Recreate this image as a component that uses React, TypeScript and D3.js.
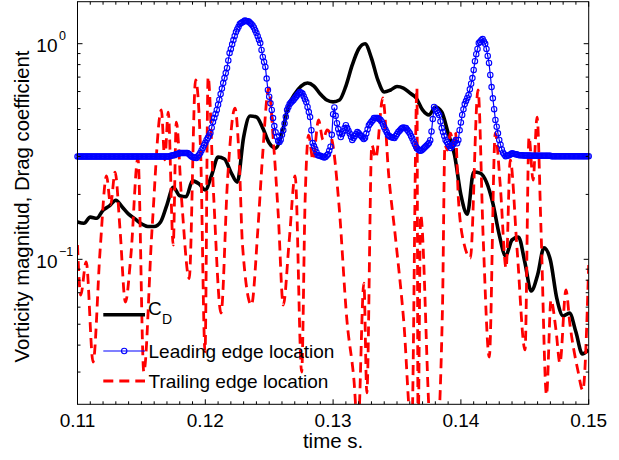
import { useEffect, useRef } from "react";
import * as d3 from "d3";

// drag coefficient, sampled every 0.0005 s from 0.11
const cdValues = [
  0.149, 0.147, 0.157, 0.155, 0.169, 0.177, 0.188, 0.175, 0.162, 0.154,
  0.146, 0.142, 0.142, 0.149, 0.179, 0.216, 0.197, 0.195, 0.231, 0.224,
  0.21, 0.246, 0.298, 0.292, 0.254, 0.228, 0.369, 0.462, 0.457, 0.406,
  0.346, 0.328, 0.385, 0.514, 0.584, 0.636, 0.657, 0.636, 0.584, 0.548,
  0.537, 0.548, 0.636, 0.797, 0.945, 1.0, 0.858, 0.679, 0.597, 0.61,
  0.633, 0.623, 0.591, 0.56, 0.493, 0.467, 0.509, 0.482, 0.385, 0.305,
  0.199, 0.162, 0.254, 0.251, 0.228, 0.182, 0.13, 0.1036, 0.123, 0.127,
  0.0972, 0.0713, 0.0846, 0.113, 0.0993, 0.0661, 0.0546, 0.0563, 0.046, 0.0364,
  0.038,
];

// leading edge location, sampled every 0.0001 s from 0.11
const leadingValues = [
  0.3, 0.3, 0.3, 0.3, 0.3, 0.3, 0.3, 0.3, 0.3, 0.3,
  0.3, 0.3, 0.3, 0.3, 0.3, 0.3, 0.3, 0.3, 0.3, 0.3,
  0.3, 0.3, 0.3, 0.3, 0.3, 0.3, 0.3, 0.3, 0.3, 0.3,
  0.3, 0.3, 0.3, 0.3, 0.3, 0.3, 0.3, 0.3, 0.3, 0.3,
  0.3, 0.3, 0.3, 0.3, 0.3, 0.3, 0.3, 0.3, 0.3, 0.3,
  0.3, 0.3, 0.3, 0.3, 0.3, 0.3, 0.3, 0.3, 0.3, 0.3,
  0.3, 0.3, 0.3, 0.3, 0.3, 0.3, 0.3, 0.3, 0.3, 0.3,
  0.3, 0.3, 0.3,
  0.302, 0.303, 0.304, 0.305, 0.307, 0.308, 0.309, 0.311,
  0.311, 0.311, 0.311, 0.311, 0.311, 0.311,
  0.309, 0.305, 0.301, 0.298,
  0.297, 0.296, 0.295,
  0.3, 0.305, 0.311,
  0.32, 0.328,
  0.338, 0.347, 0.358,
  0.366, 0.375, 0.385,
  0.408, 0.433,
  0.452, 0.472, 0.493,
  0.521, 0.55, 0.584, 0.619, 0.657,
  0.693, 0.731, 0.772,
  0.836, 0.906,
  0.946, 0.993, 1.04,
  1.086, 1.133, 1.166, 1.197, 1.234,
  1.246, 1.257, 1.268, 1.28,
  1.276, 1.271, 1.267, 1.25, 1.233, 1.216, 1.19, 1.155, 1.121, 1.084, 1.044, 1.0075,
  0.935, 0.868, 0.823, 0.78, 0.689, 0.61,
  0.568, 0.529, 0.493, 0.452, 0.415, 0.388, 0.37, 0.354, 0.35,
  0.359, 0.378, 0.397, 0.426, 0.458, 0.493,
  0.509, 0.525, 0.533, 0.541, 0.548, 0.558, 0.568, 0.578, 0.588, 0.597,
  0.592, 0.587, 0.57, 0.553, 0.537, 0.509, 0.482, 0.457, 0.397, 0.346,
  0.335, 0.325, 0.314, 0.304, 0.303, 0.302, 0.3, 0.299, 0.297, 0.298,
  0.303, 0.307, 0.319, 0.333, 0.378, 0.471, 0.506, 0.463, 0.428, 0.402, 0.385, 0.369,
  0.381, 0.393, 0.406, 0.419, 0.406, 0.395, 0.383, 0.37, 0.358,
  0.365, 0.373, 0.381, 0.389, 0.384, 0.378, 0.373, 0.367, 0.361,
  0.366, 0.383, 0.401, 0.419, 0.426, 0.434, 0.442, 0.452, 0.452, 0.452, 0.452,
  0.448, 0.444, 0.436, 0.423, 0.41, 0.399, 0.388, 0.377, 0.373, 0.369, 0.368, 0.366, 0.365,
  0.373, 0.381, 0.389, 0.395, 0.401, 0.407, 0.409, 0.407, 0.406,
  0.399, 0.392, 0.384, 0.373, 0.363, 0.352, 0.342, 0.332, 0.326, 0.321,
  0.319, 0.32, 0.323, 0.327, 0.332, 0.336, 0.341, 0.346,
  0.357, 0.392, 0.447, 0.509, 0.498, 0.488, 0.477, 0.467,
  0.436, 0.406, 0.389, 0.373, 0.358, 0.35, 0.342, 0.335, 0.328, 0.335, 0.342, 0.35, 0.358,
  0.345, 0.358, 0.397, 0.431, 0.467, 0.496, 0.525, 0.542, 0.56, 0.578,
  0.614, 0.652, 0.693, 0.756, 0.83, 0.894, 0.946, 1.0075, 1.021, 1.037, 1.051,
  1.025, 0.999, 0.946, 0.878, 0.814, 0.716, 0.629, 0.558, 0.497, 0.443, 0.412, 0.384, 0.358,
  0.34, 0.323, 0.312, 0.306, 0.301, 0.302, 0.303, 0.305, 0.307, 0.31, 0.309, 0.308, 0.307, 0.306, 0.305, 0.304,
  0.304, 0.304, 0.303, 0.303, 0.303, 0.303, 0.303, 0.303,
  0.302, 0.302, 0.302, 0.302, 0.302, 0.302, 0.302, 0.302,
  0.302, 0.302, 0.302, 0.302, 0.302, 0.302, 0.302, 0.302,
  0.301, 0.301, 0.301, 0.301, 0.301, 0.301, 0.301, 0.301, 0.301, 0.301,
  0.301, 0.301, 0.301, 0.301, 0.301, 0.301, 0.301, 0.301, 0.301, 0.301,
  0.301, 0.301, 0.301, 0.301, 0.301, 0.301, 0.301, 0.301, 0.301, 0.301,
];

// trailing edge location, turning points
const trailingTime = [
  0.11, 0.11025, 0.11068, 0.11122, 0.11177, 0.11227, 0.11259, 0.11294, 0.11333, 0.11375,
  0.11418, 0.11473, 0.11519, 0.11582, 0.11656, 0.11683, 0.1171, 0.11749, 0.11773, 0.11815,
  0.11874, 0.11924, 0.11963, 0.11998, 0.12022, 0.12065, 0.12123, 0.12174, 0.12232, 0.12267,
  0.12291, 0.12361, 0.12411, 0.12446, 0.12497, 0.12532, 0.12571, 0.1261, 0.12657, 0.12703,
  0.12754, 0.12781, 0.12808, 0.12843, 0.12886, 0.12921, 0.12953, 0.12991, 0.13046, 0.13108,
  0.13163, 0.13194, 0.13241, 0.13264, 0.13303, 0.13334, 0.13389, 0.13435, 0.1349, 0.13552,
  0.13615, 0.13656, 0.13665, 0.13685, 0.13763, 0.13809, 0.13856, 0.13875, 0.13895, 0.13918,
  0.13942, 0.13957, 0.13981, 0.14027, 0.14074, 0.14134, 0.14175, 0.14222, 0.14269, 0.14308,
  0.14354, 0.14386, 0.1444, 0.14502, 0.14533, 0.14565, 0.14596, 0.14627, 0.1467, 0.14705,
  0.14744, 0.14775, 0.14822, 0.14853, 0.14915, 0.14954, 0.15,
];
const trailingValues = [
  0.1165, 0.0683, 0.0972, 0.0334, 0.1104, 0.2435, 0.179, 0.254, 0.1368, 0.0634,
  0.1047, 0.295, 0.03, 0.1339, 0.493, 0.289, 0.482, 0.1165, 0.433, 0.188,
  0.0814, 0.679, 0.321, 0.0372, 0.701, 0.199, 0.0563, 0.233, 0.503, 0.274,
  0.1165, 0.0614, 0.1368, 0.289, 0.623, 0.358, 0.1605, 0.0614, 0.1229, 0.2435,
  0.03, 0.188, 0.377, 0.289, 0.443, 0.358, 0.398, 0.358, 0.179, 0.0523,
  0.0276, 0.016, 0.0776, 0.024, 0.339, 0.295, 0.56, 0.246, 0.1229, 0.0523,
  0.016, 0.623, 0.016, 0.1605, 0.016, 0.014, 0.06, 0.339, 0.321, 0.385,
  0.339, 0.389, 0.188, 0.1165, 0.1014, 0.61, 0.1229, 0.0352, 0.385, 0.22,
  0.0911, 0.289, 0.1104, 0.038, 0.369, 0.233, 0.457, 0.1368, 0.0235, 0.0648,
  0.047, 0.033, 0.0721, 0.05, 0.0306, 0.0247, 0.0941,
];

const xTicks = [0.11, 0.12, 0.13, 0.14, 0.15];
const yTicks = [0.1, 1];
const yTickExp = ["\u22121", "0"];
const yMinorTicks = [0.03, 0.04, 0.05, 0.06, 0.07, 0.08, 0.09, 0.2, 0.3, 0.4, 0.5, 0.6, 0.7, 0.8, 0.9];
const legendLabels = ["Leading edge location", "Trailing edge location"];

const cdTime = cdValues.map((_, i) => 0.11 + i * 0.0005);
const leadingTime = leadingValues.map((_, i) => 0.11 + i * 0.0001);

const font = "'Liberation Sans', Arial, Helvetica, sans-serif";

const App = () => {
  const svgRef = useRef<SVGSVGElement>(null);
  const width = 619;
  const height = 460;
  const box = { left: 77.5, right: 588.7, top: 1.7, bottom: 404.3 };

  useEffect(() => {
    const svg = d3.select(svgRef.current);
    svg.selectAll("*").remove();

    const x = d3.scaleLinear().domain([0.11, 0.15]).range([box.left, box.right]);
    const y = d3.scaleLog().domain([0.02126, 1.566]).range([box.bottom, box.top]);

    svg.append("rect").attr("width", width).attr("height", height).attr("fill", "#fff");

    svg
      .append("defs")
      .append("clipPath")
      .attr("id", "plotclip")
      .append("rect")
      .attr("x", box.left)
      .attr("y", box.top)
      .attr("width", box.right - box.left)
      .attr("height", box.bottom - box.top);

    const smooth = (ts: number[]) =>
      d3
        .line<number>()
        .x((d, i) => x(ts[i]))
        .y((d) => y(d))
        .curve(d3.curveMonotoneX);

    const plot = svg.append("g").attr("clip-path", "url(#plotclip)");

    plot
      .append("path")
      .attr("d", smooth(cdTime)(cdValues))
      .attr("fill", "none")
      .attr("stroke", "#000")
      .attr("stroke-width", 3.6)
      .attr("stroke-linejoin", "round");

    plot
      .append("path")
      .attr("d", d3.line<number>().x((d, i) => x(leadingTime[i])).y((d) => y(d))(leadingValues))
      .attr("fill", "none")
      .attr("stroke", "#0000ff")
      .attr("stroke-width", 1.2);

    svg
      .append("g")
      .selectAll("circle")
      .data(leadingValues)
      .enter()
      .append("circle")
      .attr("cx", (d, i) => x(leadingTime[i]))
      .attr("cy", (d) => y(d))
      .attr("r", 2.7)
      .attr("fill", "none")
      .attr("stroke", "#0000ff")
      .attr("stroke-width", 1.1);

    plot
      .append("path")
      .attr("d", smooth(trailingTime)(trailingValues))
      .attr("fill", "none")
      .attr("stroke", "#ff0000")
      .attr("stroke-width", 2.8)
      .attr("stroke-dasharray", "10,6");

    // axes box and ticks
    const axes = svg.append("g").attr("stroke", "#000").attr("stroke-width", 1);
    axes
      .append("rect")
      .attr("x", box.left)
      .attr("y", box.top)
      .attr("width", box.right - box.left)
      .attr("height", box.bottom - box.top)
      .attr("fill", "none");

    const xMinor = d3.range(0, 41).map((i) => 0.11 + i * 0.001);
    xMinor.forEach((t, i) => {
      const len = i % 10 === 0 ? 5 : 3;
      axes.append("line").attr("x1", x(t)).attr("x2", x(t)).attr("y1", box.bottom).attr("y2", box.bottom - len);
      axes.append("line").attr("x1", x(t)).attr("x2", x(t)).attr("y1", box.top).attr("y2", box.top + len);
    });
    yMinorTicks.forEach((v) => {
      axes.append("line").attr("x1", box.left).attr("x2", box.left + 3).attr("y1", y(v)).attr("y2", y(v));
      axes.append("line").attr("x1", box.right).attr("x2", box.right - 3).attr("y1", y(v)).attr("y2", y(v));
    });
    yTicks.forEach((v) => {
      axes.append("line").attr("x1", box.left).attr("x2", box.left + 5).attr("y1", y(v)).attr("y2", y(v));
      axes.append("line").attr("x1", box.right).attr("x2", box.right - 5).attr("y1", y(v)).attr("y2", y(v));
    });

    const text = svg.append("g").attr("font-family", font).attr("fill", "#000");

    xTicks.forEach((t) => {
      text
        .append("text")
        .attr("x", x(t))
        .attr("y", 426.7)
        .attr("text-anchor", "middle")
        .attr("font-size", 19)
        .text(t.toFixed(2));
    });
    yTicks.forEach((v, i) => {
      text
        .append("text")
        .attr("x", 57.5)
        .attr("y", y(v) + 8.2)
        .attr("text-anchor", "end")
        .attr("font-size", 19)
        .text("10");
      text
        .append("text")
        .attr("x", 59)
        .attr("y", y(v) - 3.4)
        .attr("font-size", 12.5)
        .text(yTickExp[i]);
    });

    text
      .append("text")
      .attr("x", (box.left + box.right) / 2)
      .attr("y", 448.3)
      .attr("text-anchor", "middle")
      .attr("font-size", 20.5)
      .text("time s.");
    text
      .append("text")
      .attr("transform", `translate(28.5, ${206.5}) rotate(-90)`)
      .attr("text-anchor", "middle")
      .attr("font-size", 20.3)
      .text("Vorticity magnitud, Drag coefficient");

    // legend
    const legend = svg.append("g");
    legend
      .append("line")
      .attr("x1", 103.3)
      .attr("x2", 145)
      .attr("y1", 314.7)
      .attr("y2", 314.7)
      .attr("stroke", "#000")
      .attr("stroke-width", 3.6);
    legend
      .append("line")
      .attr("x1", 103.3)
      .attr("x2", 145)
      .attr("y1", 351)
      .attr("y2", 351)
      .attr("stroke", "#0000ff")
      .attr("stroke-width", 1.2);
    legend
      .append("circle")
      .attr("cx", 124.2)
      .attr("cy", 351)
      .attr("r", 2.7)
      .attr("fill", "none")
      .attr("stroke", "#0000ff")
      .attr("stroke-width", 1.1);
    legend
      .append("line")
      .attr("x1", 103.3)
      .attr("x2", 145)
      .attr("y1", 381)
      .attr("y2", 381)
      .attr("stroke", "#ff0000")
      .attr("stroke-width", 2.8)
      .attr("stroke-dasharray", "10,6");

    text.append("text").attr("x", 148).attr("y", 315).attr("font-size", 19).text("C");
    text.append("text").attr("x", 162).attr("y", 323.5).attr("font-size", 14).text("D");
    text.append("text").attr("x", 148.5).attr("y", 358.3).attr("font-size", 19).text(legendLabels[0]);
    text.append("text").attr("x", 148.5).attr("y", 388.3).attr("font-size", 19).text(legendLabels[1]);
  }, []);

  return (
    <svg
      ref={svgRef}
      width={width}
      height={height}
      style={{ position: "absolute", left: 0, top: 0 }}
    ></svg>
  );
};

export default App;
